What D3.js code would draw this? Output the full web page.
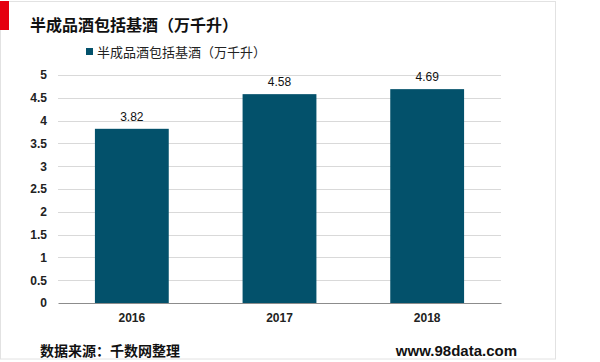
<!DOCTYPE html>
<html>
<head>
<meta charset="utf-8">
<script src="https://cdn.jsdelivr.net/npm/d3@7"></script>
<style>
  body { margin: 0; background: #fff; }
  svg { display: block; font-family: "Liberation Sans", Arial, "Noto Sans CJK SC", sans-serif; }
</style>
</head>
<body>
<div id="chart"></div>
<script>
  // chart data
  const years = ["2016", "2017", "2018"];
  const values = [3.82, 4.58, 4.69];
  const yTicks = [0, 0.5, 1, 1.5, 2, 2.5, 3, 3.5, 4, 4.5, 5];
  const seriesName = "半成品酒包括基酒（万千升）";
  const titleText = "半成品酒包括基酒（万千升）";
  const sourceText = "数据来源：千数网整理";
  const siteText = "www.98data.com";

  const W = 600, H = 362;
  const margin = { top: 75, right: 99, bottom: 59, left: 58 };
  const width = W - margin.left - margin.right;
  const height = H - margin.top - margin.bottom;
  const barColor = "#03516b";
  const cjk = "'Noto Sans CJK SC', 'Microsoft YaHei', sans-serif";

  const svg = d3.select("#chart").append("svg")
      .attr("width", W)
      .attr("height", H);

  // outer frame and red mark
  svg.append("rect")
      .attr("x", 0.5).attr("y", 1.5)
      .attr("width", 555).attr("height", 357.5)
      .attr("fill", "none")
      .attr("stroke", "#e2e2e2");
  svg.append("rect")
      .attr("x", 0).attr("y", 1)
      .attr("width", 9).attr("height", 29)
      .attr("fill", "#e5000f");

  // title
  svg.append("text")
      .attr("x", 30).attr("y", 31)
      .style("font-family", cjk)
      .style("font-size", "16px")
      .style("font-weight", "bold")
      .attr("fill", "#111")
      .text(titleText);

  const g = svg.append("g")
      .attr("transform", `translate(${margin.left},${margin.top})`);

  const x = d3.scaleBand().domain(years).range([0, width]).paddingInner(0.5).paddingOuter(0.25);
  const y = d3.scaleLinear().domain([0, 5]).range([height, 0]);

  // gridlines
  g.append("g")
      .selectAll("line")
      .data(yTicks.filter(d => d > 0))
      .join("line")
      .attr("x1", 0).attr("x2", width)
      .attr("y1", d => Math.round(y(d)) + 0.5)
      .attr("y2", d => Math.round(y(d)) + 0.5)
      .attr("stroke", "#d9d9d9");

  // y axis labels
  const yAxis = g.append("g")
      .call(d3.axisLeft(y).tickValues(yTicks).tickSize(0).tickPadding(11).tickFormat(d3.format("")));
  yAxis.select(".domain").remove();
  yAxis.selectAll("text")
      .style("font-size", "12px")
      .style("font-weight", "bold")
      .attr("fill", "#222");

  // bars
  g.selectAll(".bar")
      .data(values)
      .join("rect")
      .attr("class", "bar")
      .attr("x", (d, i) => x(years[i]))
      .attr("width", x.bandwidth())
      .attr("y", d => y(d))
      .attr("height", d => height - y(d))
      .attr("fill", barColor);

  // value labels
  g.selectAll(".val")
      .data(values)
      .join("text")
      .attr("class", "val")
      .attr("x", (d, i) => x(years[i]) + x.bandwidth() / 2)
      .attr("y", d => y(d) - 8)
      .attr("text-anchor", "middle")
      .style("font-size", "12px")
      .attr("fill", "#111")
      .text(d => d);

  // x axis
  const xAxis = g.append("g")
      .attr("transform", `translate(0,${height})`)
      .call(d3.axisBottom(x).tickSize(0).tickPadding(10));
  xAxis.select(".domain").attr("stroke", "#8c8c8c");
  xAxis.selectAll("text")
      .style("font-size", "12px")
      .style("font-weight", "bold")
      .attr("fill", "#222");

  // legend
  svg.append("rect")
      .attr("x", 86).attr("y", 48)
      .attr("width", 7).attr("height", 7)
      .attr("fill", barColor);
  svg.append("text")
      .attr("x", 97).attr("y", 57)
      .style("font-family", cjk)
      .style("font-size", "13px")
      .attr("fill", "#222")
      .text(seriesName);

  // footer
  svg.append("text")
      .attr("x", 40).attr("y", 356)
      .style("font-family", cjk)
      .style("font-size", "14px")
      .style("font-weight", "bold")
      .attr("fill", "#111")
      .text(sourceText);
  svg.append("text")
      .attr("x", 517).attr("y", 356)
      .attr("text-anchor", "end")
      .style("font-family", "'Liberation Sans', Arial, sans-serif")
      .style("font-size", "15px")
      .style("font-weight", "bold")
      .attr("fill", "#111")
      .text(siteText);
</script>
</body>
</html>
